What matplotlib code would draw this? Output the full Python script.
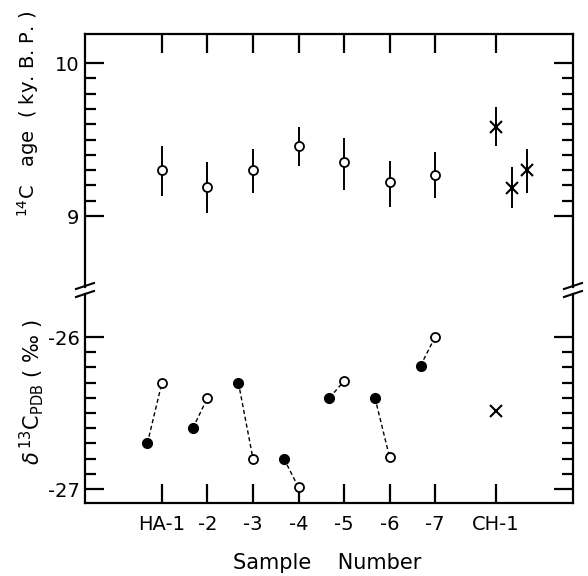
import numpy as np
import matplotlib
matplotlib.use("Agg")
import matplotlib.pyplot as plt
from matplotlib.lines import Line2D
from matplotlib.ticker import FixedLocator

plt.rcParams['font.family'] = 'DejaVu Sans'
plt.rcParams['axes.unicode_minus'] = False

# sample positions and labels
sample_x = [1, 2, 3, 4, 5, 6, 7, 8.33]
sample_labels = ["HA-1", "-2", "-3", "-4", "-5", "-6", "-7", "CH-1"]

# 14C age (ky B.P.), HA series (open circles)
ha_x = [1, 2, 3, 4, 5, 6, 7]
ha_age = [9.30, 9.19, 9.30, 9.46, 9.35, 9.22, 9.27]
ha_err_lo = [0.17, 0.17, 0.15, 0.13, 0.18, 0.16, 0.15]
ha_err_hi = [0.16, 0.16, 0.14, 0.12, 0.16, 0.14, 0.15]

# 14C age, CH-1 (crosses)
ch_x = [8.33, 8.69, 9.02]
ch_age = [9.58, 9.18, 9.30]
ch_err_lo = [0.12, 0.13, 0.15]
ch_err_hi = [0.13, 0.14, 0.14]

# delta 13C PDB (permil)
d13_filled_x = [0.68, 1.68, 2.68, 3.68, 4.68, 5.68, 6.68]
d13_filled = [-26.70, -26.60, -26.30, -26.80, -26.40, -26.40, -26.19]
d13_open_x = [1, 2, 3, 4, 5, 6, 7]
d13_open = [-26.30, -26.40, -26.80, -26.99, -26.29, -26.79, -26.00]
d13_ch_x = [8.33]
d13_ch = [-26.49]

fig = plt.figure(figsize=(5.88, 5.76), dpi=100)
L, R = 85 / 588, 573 / 588
ax1 = fig.add_axes([L, 1 - 287 / 576, R - L, (287 - 34) / 576])
ax2 = fig.add_axes([L, 1 - 503 / 576, R - L, (503 - 294) / 576])

xlim = (-0.69, 10.03)
lw = 1.6

# top panel
ax1.errorbar(ha_x, ha_age, yerr=[ha_err_lo, ha_err_hi], fmt='o', mfc='white',
             mec='black', mew=1.3, ms=6.5, ecolor='black', elinewidth=1.4, capsize=0)
ax1.errorbar(ch_x, ch_age, yerr=[ch_err_lo, ch_err_hi], fmt='x', color='black',
             mew=1.5, ms=8, elinewidth=1.4, capsize=0)
ax1.set_xlim(*xlim)
ax1.set_ylim(8.536, 10.19)
ax1.set_yticks([9, 10])
ax1.set_yticklabels(["9", "10"])
ax1.yaxis.set_minor_locator(FixedLocator(np.arange(9.1, 9.95, 0.1)))
ax1.set_xticks(sample_x)
ax1.tick_params(axis='x', which='both', direction='in', top=True, bottom=False,
                labeltop=False, labelbottom=False, length=14, width=lw)
ax1.spines['bottom'].set_visible(False)

# bottom panel
for xf, yf, xo, yo in zip(d13_filled_x, d13_filled, d13_open_x, d13_open):
    ax2.plot([xf, xo], [yf, yo], color='black', lw=1.0, ls=(0, (3, 2)))
ax2.plot(d13_filled_x, d13_filled, 'o', color='black', ms=7, zorder=3)
ax2.plot(d13_open_x, d13_open, 'o', mfc='white', mec='black', mew=1.3, ms=6.5, zorder=3)
ax2.plot(d13_ch_x, d13_ch, 'x', color='black', mew=1.5, ms=8)
ax2.set_xlim(*xlim)
ax2.set_ylim(-27.092, -25.717)
ax2.set_yticks([-27, -26])
ax2.set_yticklabels(["-27", "-26"])
ax2.yaxis.set_minor_locator(FixedLocator(np.arange(-26.9, -26.05, 0.1)))
ax2.set_xticks(sample_x)
ax2.set_xticklabels(sample_labels)
ax2.tick_params(axis='x', which='both', direction='in', top=False, bottom=True,
                length=14, width=lw, pad=9, labelsize=14)
ax2.spines['top'].set_visible(False)

for ax in (ax1, ax2):
    for s in ax.spines.values():
        s.set_linewidth(lw)
    ax.tick_params(axis='y', which='major', direction='in', left=True, right=True,
                   length=14, width=lw, labelsize=14, pad=4)
    ax.tick_params(axis='y', which='minor', direction='in', left=True, right=True,
                   length=8, width=lw)

# break marks on both sides
for xb in (L, R):
    for yb in (286, 294):
        yy = 1 - yb / 576
        fig.add_artist(Line2D([xb - 9 / 588, xb + 9 / 588], [yy - 3 / 576, yy + 3 / 576],
                              color='black', lw=1.5))

fig.text(28 / 588, 1 - 114 / 576, r"$^{14}$C   age  ( ky. B. P. )", rotation=90,
         ha='center', va='center', fontsize=14)
fig.text(32 / 588, 1 - 392 / 576, r"$\delta\,^{13}$C$_{\mathrm{PDB}}$ ( ‰ )", rotation=90,
         ha='center', va='center', fontsize=15)
fig.text(327 / 588, 1 - 563 / 576, "Sample    Number", ha='center',
         va='center', fontsize=15)

fig.savefig("out.png", dpi=100)
